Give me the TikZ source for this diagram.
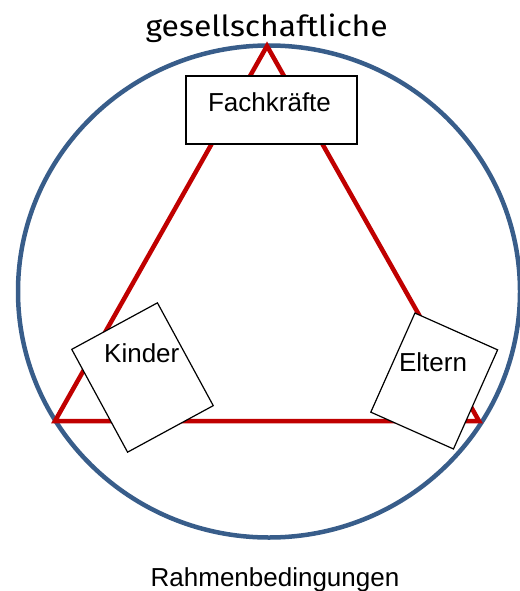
\documentclass[tikz,border=0pt]{standalone}
\usepackage{fontspec}
\setmainfont{Liberation Sans}
\newfontfamily\framefont{Fira Sans}
\usetikzlibrary{positioning}
\definecolor{ringblue}{HTML}{385D8A}
\definecolor{triared}{HTML}{C00000}
\tikzset{roleword/.style={font=\fontsize{26}{30}\selectfont, inner sep=0pt, anchor=base}}
\tikzset{rolebox/.style={draw=black, fill=white, line width=1.2pt, inner sep=0pt}}

\begin{document}
\begin{tikzpicture}[x=1pt,y=-1pt]
      \useasboundingbox (0,0) rectangle (519,591);
      \coordinate (top) at (267,46);
      \coordinate (left) at (55,421);
      \coordinate (right) at (479,421);
      \coordinate (mid) at (269,291.5);
      \draw[ringblue, line width=4.5pt] (mid) ellipse [x radius=251, y radius=246];
      \draw[triared, line width=4.5pt] (top) -- (left) -- (right) -- cycle;
      \node[rolebox, minimum width=171, minimum height=68] (fachbox) at (271.5,110) {};
      \node[rolebox, minimum width=97.5, minimum height=117, rotate=28.5] (kinderbox) at (142.5,377.5) {};
      \node[rolebox, minimum width=90.5, minimum height=108.5, rotate=-24] (elternbox) at (434.2,381) {};
      \node[roleword] (fach) at (269.5,111) {Fachkräfte};
      \node[roleword] (kinder) at (141.8,362.7) {Kinder};
      \node[roleword] (eltern) at (433,371) {Eltern};
      \node[roleword, font=\framefont\fontsize{29}{32}\selectfont] (oben) at (266.7,36.7) {\scalebox{1.1}[1]{gesellschaftliche}};
      \node[roleword] (unten) at (275,586) {Rahmenbedingungen};
    \end{tikzpicture}
\end{document}
